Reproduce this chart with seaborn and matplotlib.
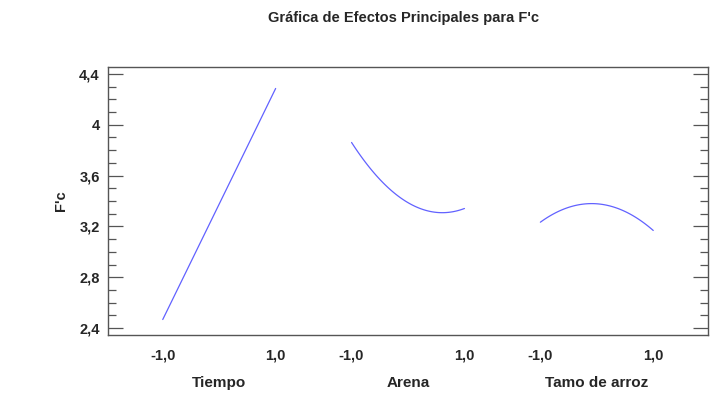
import numpy as np
import pandas as pd
import matplotlib
matplotlib.use("Agg")
import matplotlib.pyplot as plt
import seaborn as sns
from matplotlib.ticker import MultipleLocator, FixedLocator

sns.set_theme(style="white")
plt.rcParams['font.family'] = ['Liberation Sans', 'DejaVu Sans']

# Main effects: fitted F'c at coded levels -1, 0, +1 of each factor
factors = ["Tiempo", "Arena", "Tamo de arroz"]
levels = [-1.0, 0.0, 1.0]
tiempo_fc = [2.467, 3.376, 4.286]
arena_fc = [3.861, 3.387, 3.341]
tamo_fc = [3.233, 3.378, 3.168]
series = [tiempo_fc, arena_fc, tamo_fc]
yticks = [2.4, 2.8, 3.2, 3.6, 4.0, 4.4]
ytick_labels = ["2,4", "2,8", "3,2", "3,6", "4", "4,4"]

spacing = 3.345  # horizontal distance between factor panels (coded units)

fig = plt.figure(figsize=(7.24, 4.12), dpi=100)
ax = fig.add_axes([108 / 724, 1 - 335 / 412, 600 / 724, 268 / 412])

rows = []
for i, (name, vals) in enumerate(zip(factors, series)):
    for lv, v in zip(levels, vals):
        rows.append({"factor": name, "x": lv + i * spacing, "fc": v})
df = pd.DataFrame(rows)

for name in factors:
    sub = df[df["factor"] == name]
    sns.regplot(data=sub, x="x", y="fc", order=2, ci=None, scatter=False,
                truncate=True, ax=ax,
                line_kws={"color": "#4646ff", "lw": 0.9, "alpha": 0.85})

ax.set_xlim(-1.97, 2 * spacing + 1.97)
ax.set_ylim(2.345, 4.455)

xt = []
xl = []
for i in range(len(factors)):
    xt += [-1 + i * spacing, 1 + i * spacing]
    xl += ["-1,0", "1,0"]
ax.set_xticks(xt)
ax.set_xticklabels(xl, fontsize=10.5, fontweight="bold")
ax.tick_params(axis="x", length=0, pad=10)

ax.yaxis.set_major_locator(FixedLocator(yticks))
ax.set_yticklabels(ytick_labels, fontsize=10.5, fontweight="bold")
ax.yaxis.set_minor_locator(MultipleLocator(0.1))
ax.tick_params(axis="y", which="major", direction="in", length=11, width=0.9,
               color="#555555", left=True, right=True, pad=6)
ax.tick_params(axis="y", which="minor", direction="in", length=6, width=0.9,
               color="#555555", left=True, right=True)

for s in ax.spines.values():
    s.set_color("#555555")
    s.set_linewidth(1.0)

ax.set_xlabel("")
ax.set_ylabel("F'c", fontsize=10.5, fontweight="bold", labelpad=8)

for i, name in enumerate(factors):
    ax.text(i * spacing, -0.178, name, transform=ax.get_xaxis_transform(),
            ha="center", va="center", fontsize=11, fontweight="bold")

fig.text(403 / 724, 1 - 18 / 412, "Gráfica de Efectos Principales para F'c",
         ha="center", va="center", fontsize=10.5, fontweight="bold")

fig.savefig("out.png", dpi=100, facecolor="white")
